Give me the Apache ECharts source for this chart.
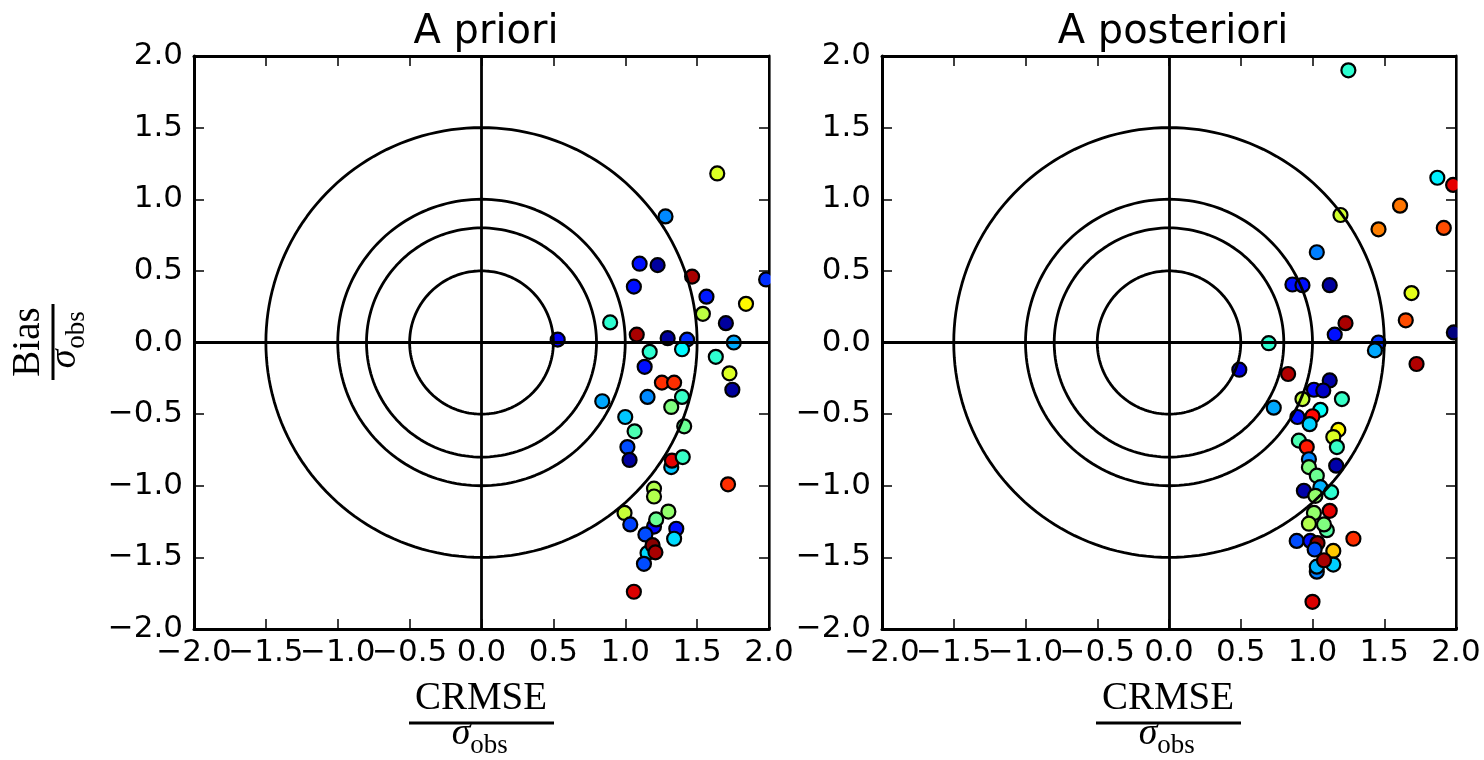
<!DOCTYPE html>
<html>
<head>
<meta charset="utf-8">
<script src="https://cdn.jsdelivr.net/npm/echarts@6/dist/echarts.min.js"></script>
<style>
  html, body { margin: 0; padding: 0; background: #fff; }
  #chart { width: 1484px; height: 760px; }
</style>
</head>
<body>
<div id="chart"></div>
<script>
// ---------- data ----------
const titles = ['A priori', 'A posteriori'];
const tickValues = [-2.0, -1.5, -1.0, -0.5, 0.0, 0.5, 1.0, 1.5, 2.0];
const circleRadii = [0.5, 0.8, 1.0, 1.5];

// A priori
const prioriX = [1.64, 1.28, 1.10, 1.225, 1.465, 1.06, 1.565, 1.84, 1.54, 1.70, 0.895, 1.08, 1.295, 1.43, 0.53, 1.755, 1.98,
  1.17, 1.395, 1.63, 1.135, 1.725, 1.255, 1.34, 1.745, 0.84, 1.155, 1.395, 1.32, 1.0, 1.41, 1.065, 1.015, 1.03, 1.32, 1.325,
  1.40, 1.715, 1.20, 1.20, 0.995, 1.30, 1.20, 1.215, 1.035, 1.355, 1.14, 1.34, 1.155, 1.19, 1.21, 1.13, 1.06];
const prioriY = [1.18, 0.88, 0.55, 0.54, 0.46, 0.39, 0.32, 0.27, 0.20, 0.135, 0.14, 0.055, 0.03, 0.02, 0.02, 0.0, 0.44,
  -0.065, -0.047, -0.10, -0.17, -0.215, -0.28, -0.28, -0.33, -0.41, -0.38, -0.38, -0.45, -0.52, -0.585, -0.62, -0.73, -0.82, -0.87, -0.825,
  -0.80, -0.99, -1.02, -1.075, -1.19, -1.18, -1.285, -1.235, -1.27, -1.30, -1.34, -1.37, -1.47, -1.415, -1.465, -1.545, -1.74];
const prioriC = [0.59, 0.26, 0.14, 0.03, 0.96, 0.14, 0.15, 0.63, 0.56, 0.03, 0.42, 0.96, 0.03, 0.17, 0.12, 0.29, 0.17,
  0.42, 0.37, 0.42, 0.14, 0.59, 0.83, 0.83, 0.03, 0.29, 0.26, 0.43, 0.50, 0.32, 0.48, 0.45, 0.20, 0.03, 0.32, 0.90,
  0.43, 0.83, 0.55, 0.55, 0.57, 0.52, 0.13, 0.48, 0.19, 0.14, 0.20, 0.34, 0.34, 0.99, 0.96, 0.20, 0.91];

// A posteriori
const posterioriX = [1.25, 1.87, 1.98, 1.61, 1.195, 1.46, 1.915, 1.03, 0.86, 0.93, 1.12, 1.69, 1.65, 1.23, 1.155, 1.985,
  0.695, 1.46, 1.435, 1.725, 0.49, 0.83, 1.12, 1.01, 1.075, 0.93, 1.205, 0.73, 1.055, 0.895, 1.00, 0.98, 1.18, 1.145,
  1.17, 0.905, 0.96, 0.975, 0.975, 1.165, 1.03, 1.055, 1.13, 0.94, 1.02, 1.01, 1.12, 0.975, 1.10, 1.08, 0.89, 0.985,
  1.035, 1.015, 1.145, 1.03, 1.03, 1.145, 1.08, 1.285, 1.00];
const posterioriY = [1.90, 1.15, 1.10, 0.955, 0.89, 0.79, 0.80, 0.63, 0.405, 0.40, 0.40, 0.345, 0.155, 0.135, 0.055, 0.07,
  -0.005, 0.0, -0.055, -0.15, -0.19, -0.22, -0.265, -0.33, -0.335, -0.395, -0.395, -0.455, -0.47, -0.52, -0.515, -0.57, -0.61, -0.66,
  -0.73, -0.685, -0.73, -0.815, -0.87, -0.86, -0.93, -1.01, -1.045, -1.035, -1.07, -1.19, -1.175, -1.265, -1.31, -1.27, -1.385, -1.385,
  -1.40, -1.445, -1.455, -1.60, -1.565, -1.55, -1.52, -1.37, -1.81];
const posterioriC = [0.42, 0.36, 0.90, 0.76, 0.58, 0.75, 0.80, 0.25, 0.14, 0.14, 0.03, 0.60, 0.80, 0.96, 0.14, 0.0,
  0.42, 0.17, 0.29, 0.95, 0.09, 0.95, 0.04, 0.13, 0.07, 0.57, 0.43, 0.29, 0.38, 0.14, 0.87, 0.33, 0.63, 0.59,
  0.43, 0.45, 0.85, 0.26, 0.50, 0.04, 0.48, 0.30, 0.42, 0.04, 0.52, 0.52, 0.90, 0.55, 0.46, 0.50, 0.20, 0.14,
  0.98, 0.20, 0.68, 0.25, 0.30, 0.33, 0.96, 0.83, 0.91];

const jet = ['#00007f', '#0000ff', '#007fff', '#00ffff', '#7fff7f', '#ffff00', '#ff7f00', '#ff0000', '#7f0000'];

// ---------- build ----------
const chart = echarts.init(document.getElementById('chart'), null, { renderer: 'canvas' });
const grids = [
  { left: 194, top: 56, width: 575, height: 573 },
  { left: 882, top: 56, width: 574, height: 573 }
];
const zip = (xs, ys, cs) => xs.map((x, i) => [x, ys[i], cs[i]]);
const fmt = v => (v < 0 ? '\u2212' : '') + Math.abs(v).toFixed(1);
const isEven = v => tickValues.findIndex(t => Math.abs(t - v) < 1e-9) % 2 === 0;

function axis(kind, gridIndex, pos, labels, opts) {
  opts = opts || {};
  return {
    type: 'value', gridIndex, position: pos, min: -2, max: 2, interval: 0.5,
    splitLine: { show: false },
    axisLine: { show: opts.noLine ? false : true, onZero: false, lineStyle: { color: '#000', width: 3 } },
    axisTick: { show: opts.noLine ? false : true, inside: true, length: 10, lineStyle: { color: '#000', width: 1.5 } },
    axisLabel: {
      show: labels, showMinLabel: true, showMaxLabel: true, hideOverlap: false,
      formatter: opts.filter ? (v => opts.filter(v) ? fmt(v) : '') : fmt,
      color: '#000', fontSize: 31, fontFamily: 'DejaVu Sans',
      margin: kind === 'x' ? 8 : 11
    }
  };
}

const xAxes = [], yAxes = [];
[0, 1].forEach(g => {
  xAxes.push(
    axis('x', g, 'bottom', true, { filter: v => isEven(v) }),
    axis('x', g, 'top', false),
    axis('x', g, 'bottom', true, { filter: v => !isEven(v), noLine: true })
  );
  yAxes.push(axis('y', g, 'left', true), axis('y', g, 'right', false));
});

function circle(r) {
  const pts = [];
  for (let k = 0; k <= 360; k += 2) {
    const a = k * Math.PI / 180;
    pts.push([r * Math.cos(a), r * Math.sin(a)]);
  }
  return pts;
}

const series = [];
const datasets = [zip(prioriX, prioriY, prioriC), zip(posterioriX, posterioriY, posterioriC)];
[0, 1].forEach(g => {
  series.push({
    type: 'scatter', xAxisIndex: g * 3, yAxisIndex: g * 2, data: datasets[g],
    symbol: 'circle', symbolSize: 14, z: 2, clip: true,
    itemStyle: { borderColor: '#000', borderWidth: 2.2, opacity: 1 }
  });
});
[0, 1].forEach(g => {
  circleRadii.forEach((r, i) => {
    const s = {
      type: 'line', xAxisIndex: g * 3, yAxisIndex: g * 2, data: circle(r),
      showSymbol: false, symbol: 'none', z: 3, silent: true,
      lineStyle: { color: '#000', width: 2.8 }
    };
    if (i === 0) {
      s.markLine = {
        silent: true, symbol: ['none', 'none'], label: { show: false },
        lineStyle: { color: '#000', width: 2.8, type: 'solid' },
        data: [{ xAxis: 0 }, { yAxis: 0 }]
      };
    }
    series.push(s);
  });
});

const serif = 'Liberation Serif';
function xFrac(cx) {
  return {
    type: 'group', x: cx, y: 723, children: [
      { type: 'text', x: 0, y: -24, style: { text: 'CRMSE', font: '39px "' + serif + '"', fill: '#000', align: 'center', verticalAlign: 'middle' } },
      { type: 'rect', shape: { x: -72, y: -1.5, width: 145, height: 3 }, style: { fill: '#000' } },
      { type: 'text', x: -20, y: 11, style: { text: '\u03c3', font: 'italic 38px "' + serif + '"', fill: '#000', align: 'center', verticalAlign: 'middle' } },
      { type: 'text', x: 8, y: 23, style: { text: 'obs', font: '27px "' + serif + '"', fill: '#000', align: 'center', verticalAlign: 'middle' } }
    ]
  };
}
const yFrac = {
  type: 'group', x: 53, y: 342, rotation: Math.PI / 2, children: [
    { type: 'text', x: 0, y: -24, style: { text: 'Bias', font: '39px "' + serif + '"', fill: '#000', align: 'center', verticalAlign: 'middle' } },
    { type: 'rect', shape: { x: -38, y: -1.5, width: 76, height: 3 }, style: { fill: '#000' } },
    { type: 'text', x: -17, y: 12, style: { text: '\u03c3', font: 'italic 38px "' + serif + '"', fill: '#000', align: 'center', verticalAlign: 'middle' } },
    { type: 'text', x: 12, y: 24, style: { text: 'obs', font: '27px "' + serif + '"', fill: '#000', align: 'center', verticalAlign: 'middle' } }
  ]
};
// white masks just outside each plot's right spine, so edge markers look clipped like the original
function mask(g) {
  const gr = grids[g];
  const x0 = gr.left + gr.width + 1.6;
  return { type: 'rect', z: 100, silent: true,
    shape: { x: x0, y: gr.top - 12, width: 24, height: gr.height + 10 }, style: { fill: '#fff' } };
}

chart.setOption({
  animation: false,
  backgroundColor: '#fff',
  title: titles.map((t, i) => ({
    text: t, left: i === 0 ? 481 : 1168, top: 8, textAlign: 'center',
    textStyle: { fontFamily: 'DejaVu Sans', fontWeight: 'normal', fontSize: 40, color: '#000' }
  })),
  grid: grids,
  xAxis: xAxes,
  yAxis: yAxes,
  visualMap: {
    type: 'continuous', show: false, min: 0, max: 1, dimension: 2, seriesIndex: [0, 1],
    inRange: { color: jet }
  },
  series,
  graphic: [mask(0), mask(1), xFrac(481), xFrac(1168), yFrac]
});
</script>
</body>
</html>
